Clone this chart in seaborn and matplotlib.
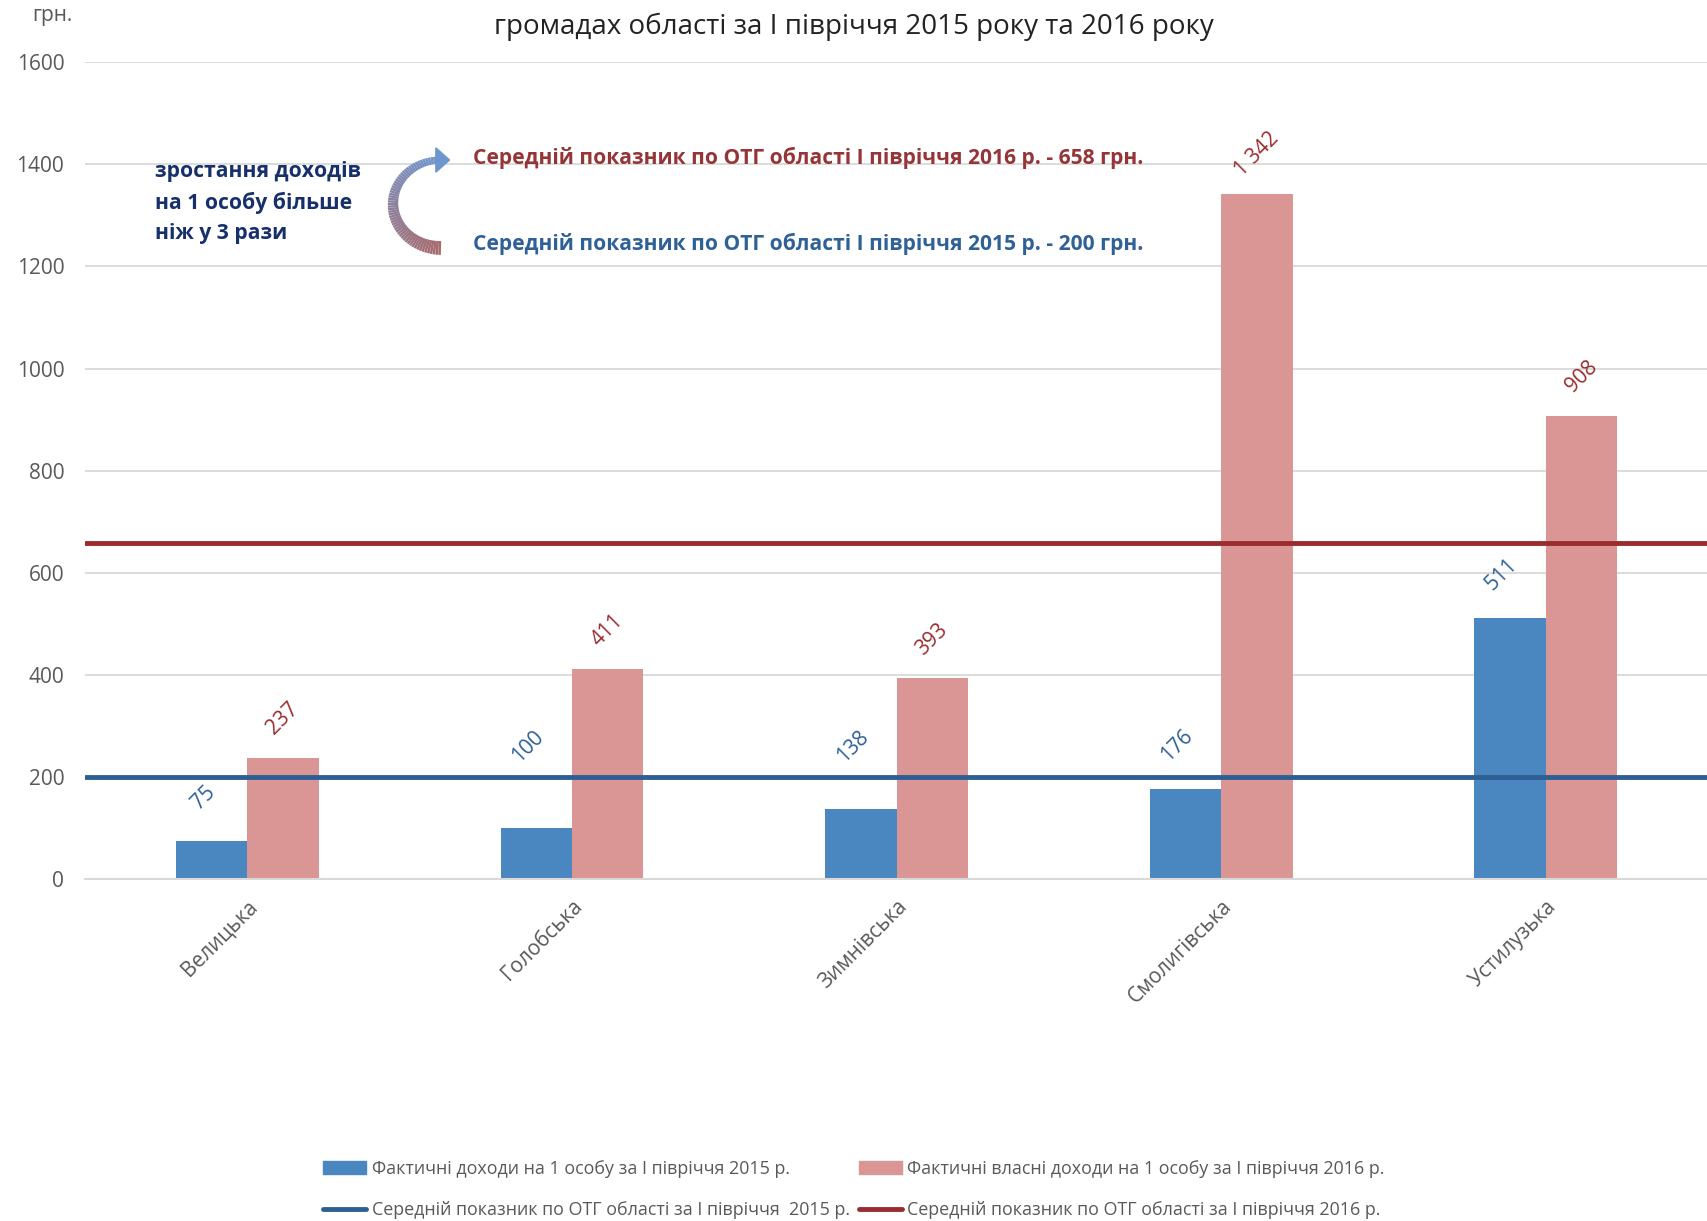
import numpy as np
import pandas as pd
import matplotlib
matplotlib.use('Agg')
import matplotlib.pyplot as plt
import seaborn as sns
from matplotlib.collections import LineCollection
from matplotlib.lines import Line2D
from matplotlib.patches import Patch

sns.set_style('white')
plt.rcParams['font.family'] = ['Open Sans', 'DejaVu Sans']

# дані
hromady = ['Велицька', 'Голобська', 'Зимнівська', 'Смолигівська', 'Устилузька']
dohody_2015 = [75, 100, 138, 176, 511]
dohody_2016 = [237, 411, 393, 1342, 908]
labels_2015 = ['75', '100', '138', '176', '511']
labels_2016 = ['237', '411', '393', '1 342', '908']
avg_2015 = 200
avg_2016 = 658

ser_2015 = 'Фактичні доходи на 1 особу за І півріччя 2015 р.'
ser_2016 = 'Фактичні власні доходи на 1 особу за І півріччя 2016 р.'

c_blue = '#4a86c0'
c_pink = '#d99694'
c_line_blue = '#2d5f94'
c_line_red = '#9a2c2f'

df = pd.DataFrame({
    'hromada': hromady * 2,
    'value': dohody_2015 + dohody_2016,
    'series': [ser_2015] * 5 + [ser_2016] * 5,
})

fig = plt.figure(figsize=(17.08, 12.21), dpi=100)
ax = fig.add_axes([0.0498, 0.280, 0.9502, 0.669])

sns.barplot(data=df, x='hromada', y='value', hue='series',
            palette=[c_blue, c_pink], width=0.44, gap=0, linewidth=0,
            saturation=1, ax=ax, legend=False)

ax.axhline(avg_2015, color=c_line_blue, lw=3.5, zorder=3)
ax.axhline(avg_2016, color=c_line_red, lw=3.5, zorder=3)

ax.set_xlim(-0.5, 4.5)
ax.set_ylim(0, 1600)
ax.set_yticks(range(0, 1601, 200))
ax.grid(axis='y', color='#d9d9d9', lw=1.3)
ax.set_axisbelow(True)
for s in ['top', 'right', 'left']:
    ax.spines[s].set_visible(False)
ax.spines['bottom'].set_color('#d9d9d9')
ax.spines['bottom'].set_linewidth(1.5)
ax.tick_params(axis='y', length=0, labelsize=15, labelcolor='#595959', pad=15)
ax.tick_params(axis='x', length=0, labelsize=15, labelcolor='#595959', pad=12)
ax.set_xlabel('')
ax.set_ylabel('')
plt.setp(ax.get_xticklabels(), rotation=45, ha='right', rotation_mode='anchor')

# підписи значень (як в Excel: відсуваються від лінії середнього)
for i, p in enumerate(ax.patches[:10]):
    x = p.get_x() + p.get_width() / 2
    h = p.get_height()
    if i < 5:
        txt, col, dx = labels_2015[i], c_line_blue, -6
        yc = h + 85
        if avg_2015 - 38 < yc < avg_2015 + 50:
            yc = avg_2015 + 60
    else:
        txt, col, dx = labels_2016[i - 5], c_line_red, 0
        yc = h + 77
    ax.annotate(txt, (x, yc), xytext=(dx, 0), textcoords='offset points',
                rotation=45, ha='center', va='center', fontsize=15, color=col)

# заголовок та одиниці
fig.text(0.5, 0.978, 'громадах області за І півріччя 2015 року та 2016 року',
         ha='center', va='center', fontsize=20, color='#222222')
fig.text(0.019, 0.987, 'грн.', ha='left', va='center', fontsize=15, color='#595959')

# анотації
fig.text(0.091, 0.868, 'зростання доходів\nна 1 особу більше\nніж у 3 рази',
         ha='left', va='top', fontsize=15.2, fontweight='bold', color='#17306b',
         linespacing=1.55)
fig.text(0.277, 0.871, 'Середній показник по ОТГ області І півріччя 2016 р. - 658 грн.',
         ha='left', va='center', fontsize=15.1, fontweight='bold', color='#953537')
fig.text(0.277, 0.800, 'Середній показник по ОТГ області І півріччя 2015 р. - 200 грн.',
         ha='left', va='center', fontsize=15.1, fontweight='bold', color='#2f6196')

# вигнута стрілка з градієнтом
t = np.linspace(-np.pi / 2, np.pi / 2, 60)
cx, cy = 441, 204
xs = cx - 48 * np.cos(t)
ys = cy - 44 * np.sin(t)
pts = np.column_stack([xs / 1708, 1 - ys / 1221])
segs = np.stack([pts[:-1], pts[1:]], axis=1)
c0 = np.array(matplotlib.colors.to_rgb('#a86a6c'))
c1 = np.array(matplotlib.colors.to_rgb('#6f97cf'))
cols = [c0 + (c1 - c0) * k / (len(segs) - 1) for k in range(len(segs))]
widths = np.linspace(10, 5, len(segs))
lc = LineCollection(segs, colors=cols, linewidths=widths, transform=fig.transFigure,
                    capstyle='butt')
fig.add_artist(lc)
fig.add_artist(matplotlib.patches.FancyArrow(
    pts[-1][0] - 0.003, pts[-1][1], 0.008, 0.0, width=0.0, head_width=0.020,
    head_length=0.008, color='#6f97cf', transform=fig.transFigure, length_includes_head=True))

# легенда
handles = [
    Patch(color=c_blue, label=ser_2015),
    Line2D([], [], color=c_line_blue, lw=3.5,
           label='Середній показник по ОТГ області за І півріччя  2015 р.'),
    Patch(color=c_pink, label=ser_2016),
    Line2D([], [], color=c_line_red, lw=3.5,
           label='Середній показник по ОТГ області за І півріччя 2016 р.'),
]
fig.legend(handles=handles, ncol=2, loc='center', bbox_to_anchor=(0.5, 0.026),
           frameon=False, fontsize=12.9, labelcolor='#595959',
           handlelength=2.4, handletextpad=0.3, columnspacing=0.5,
           labelspacing=1.3)

fig.savefig('out.png', dpi=100)
